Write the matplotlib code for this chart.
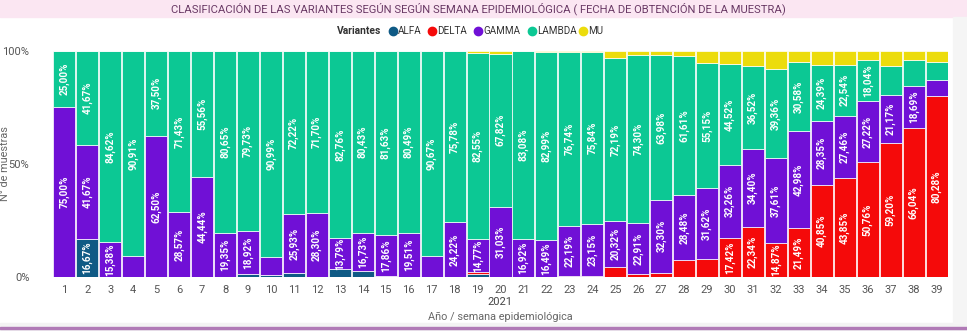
import matplotlib
matplotlib.use('Agg')
import matplotlib.pyplot as plt
from matplotlib.lines import Line2D
from matplotlib.patches import Rectangle

weeks = list(range(1, 40))
alfa = [0, 16.67, 0, 0, 0, 0, 0, 0, 1.35, 0.90, 1.85, 0, 3.45, 2.84, 0.51, 0, 0, 0,
        1.34, 0, 0, 0, 0, 0, 0, 0, 0, 0, 0, 0, 0, 0, 0, 0, 0, 0, 0, 0, 0]
delta = [0] * 18 + [0.67, 0, 0, 0, 0.47, 0.50, 4.28, 1.12, 1.94, 7.64, 7.84, 17.42,
                    22.34, 14.87, 21.49, 40.85, 43.85, 50.76, 59.20, 66.04, 80.28]
gamma = [75.00, 41.67, 15.38, 9.09, 62.50, 28.57, 44.44, 19.35, 18.92, 8.11, 25.93,
         28.30, 13.79, 16.73, 17.86, 19.51, 9.33, 24.22, 14.77, 31.03, 16.92, 16.49,
         22.19, 23.15, 20.32, 22.91, 32.30, 28.48, 31.62, 32.26, 34.40, 37.61, 42.98,
         28.35, 27.46, 27.22, 21.17, 18.69, 6.80]
lambda_ = [25.00, 41.67, 84.62, 90.91, 37.50, 71.43, 55.56, 80.65, 79.73, 90.99, 72.22,
           71.70, 82.76, 80.43, 81.63, 80.49, 90.67, 75.78, 82.55, 67.82, 83.08, 82.99,
           76.74, 75.84, 72.19, 74.30, 63.98, 61.61, 55.15, 44.52, 36.52, 39.36, 30.58,
           24.39, 22.54, 18.04, 13.18, 11.21, 8.10]
mu = [0] * 18 + [0.67, 1.15, 0, 0.52, 0.60, 0.51, 3.21, 1.67, 1.78, 2.27, 5.39, 5.80,
                 6.74, 8.16, 4.95, 6.41, 6.15, 3.98, 6.45, 4.06, 4.82]

series = [('ALFA', alfa, '#0f5a85'), ('DELTA', delta, '#f50a0a'),
          ('GAMMA', gamma, '#7010d6'), ('LAMBDA', lambda_, '#0cc894'),
          ('MU', mu, '#ecdc0c')]

plt.rcParams['font.family'] = ['Roboto', 'DejaVu Sans']

W, H = 967, 331
fig = plt.figure(figsize=(W / 100, H / 100), dpi=100)
ax = fig.add_axes([53 / W, 1 - 277 / H, (948 - 53) / W, (277 - 51) / H])

# banda del titulo
fig.add_artist(Rectangle((0, 1 - 17 / H), 1, 17 / H, transform=fig.transFigure,
                         color='#fbe6f2', zorder=0))
fig.text(478 / W, 1 - 9 / H,
         'CLASIFICACIÓN DE LAS VARIANTES SEGÚN SEGÚN SEMANA EPIDEMIOLÓGICA ( FECHA DE OBTENCIÓN DE LA MUESTRA)',
         ha='center', va='center', fontsize=8.1, color='#6a3a66')
# borde inferior / derecho
fig.add_artist(Rectangle((0, 0), 1, 8 / H, transform=fig.transFigure,
                         color='#f3f3f3', zorder=0))
fig.add_artist(Rectangle((0, 2 / H), 1, 2 / H, transform=fig.transFigure,
                         color='#b07ab6', zorder=1))
fig.add_artist(Rectangle((953 / W, 8 / H), 14 / W, 1 - 25 / H, transform=fig.transFigure,
                         color='#f5f5f5', zorder=0))

bottom = [0] * len(weeks)
for name, vals, col in series:
    ax.bar(weeks, vals, bottom=bottom, width=0.96, color=col, edgecolor='white',
           linewidth=0.5)
    for x, v, b in zip(weeks, vals, bottom):
        if v >= 13.5:
            ax.text(x, b + v / 2, f'{v:.2f}%'.replace('.', ','), rotation=90,
                    ha='center', va='center', color='white', fontsize=7.1,
                    fontweight='bold')
    bottom = [b + v for b, v in zip(bottom, vals)]

ax.set_xlim(0.5, 39.5)
ax.set_ylim(0, 100)
ax.set_xticks(weeks)
ax.set_xticklabels([str(w) for w in weeks])
ax.set_yticks([0, 50, 100])
ax.set_yticklabels(['0%', '50%', '100%'])
ax.tick_params(axis='both', length=0, labelsize=8, colors='#555555')
ax.tick_params(axis='y', pad=17)
ax.tick_params(axis='x', pad=6)
for s in ax.spines.values():
    s.set_visible(False)

fig.text(500 / W, 1 - 302 / H, '2021', ha='center', va='center', fontsize=8,
         color='#444444')
fig.text(500 / W, 1 - 317 / H, 'Año / semana epidemiológica', ha='center',
         va='center', fontsize=7.8, color='#666666')
fig.text(5 / W, 1 - 164 / H, 'N° de muestras', rotation=90, ha='center',
         va='center', fontsize=7.8, color='#666666')

# leyenda
ly = 1 - 31 / H
fig.text(337 / W, ly, 'Variantes', ha='left', va='center', fontsize=7.4,
         fontweight='bold', color='#333333')
for (name, _, col), mx in zip(series, [393, 432, 478, 532, 583]):
    fig.add_artist(Line2D([mx / W], [ly], marker='o', linestyle='', color=col,
                          markersize=6, transform=fig.transFigure))
    fig.text((mx + 5) / W, ly, name, ha='left', va='center', fontsize=7.1,
             color='#333333')

fig.savefig('out.png', dpi=100)
